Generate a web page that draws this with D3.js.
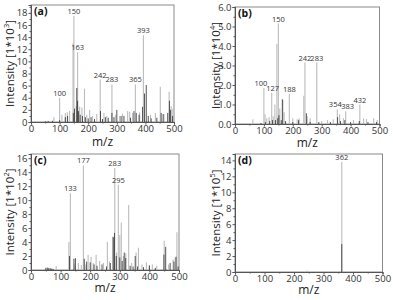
<!DOCTYPE html>
<html>
<head>
<meta charset="utf-8">
<script src="https://cdn.jsdelivr.net/npm/d3@7"></script>
<style>
  body { margin: 0; background: #fff; }
  svg { display: block; font-family: 'Open Sans', sans-serif; }
</style>
</head>
<body>
<script>
// peaks: [m/z, intensity] — gray = light spectrum, black = dark spectrum
const grayA = [[80,0.8],[100,4.0],[108,1.2],[120,1.5],[127,1.6],[135,1.8],[147,13.0],[150,17.5],[158,2.6],[163,11.5],[170,2.5],[178,2.4],[187,5.5],[195,1.2],[205,2.0],[215,1.0],[230,1.3],[242,7.0],[255,1.5],[265,1.0],[283,6.2],[295,1.2],[310,1.0],[320,1.4],[338,1.8],[345,1.7],[355,1.5],[365,6.2],[380,1.6],[393,14.3],[418,1.2],[435,1.5],[452,5.8],[465,1.3],[483,5.0],[490,2.6],[496,2.2]]
const blackA = [[50,0.1],[60,0.15],[75,0.2],[100,0.3],[120,0.8],[128,1.0],[148,1.5],[152,2.2],[160,5.6],[163,3.5],[166,1.8],[172,1.2],[180,1.0],[190,0.8],[200,0.6],[210,0.8],[222,0.5],[243,1.8],[250,0.5],[260,0.8],[270,0.7],[283,1.5],[290,0.8],[300,2.0],[315,1.0],[325,1.0],[348,0.7],[360,1.8],[368,1.5],[378,1.2],[390,2.5],[397,4.7],[403,6.1],[410,1.0],[420,0.6],[440,0.7],[455,1.5],[462,1.3],[478,1.5],[484,3.5],[488,2.0],[495,1.0]]
const labelsA = [100,150,163,242,283,365,393]

const grayB = [[62,0.25],[100,1.85],[104,0.5],[110,0.3],[118,0.35],[127,1.6],[132,0.4],[138,1.0],[145,4.1],[150,5.15],[155,0.8],[163,1.3],[170,0.6],[188,1.55],[200,0.3],[215,0.25],[222,0.3],[238,1.45],[242,3.15],[250,0.4],[260,0.3],[283,3.15],[300,0.15],[320,0.2],[340,0.25],[354,0.75],[362,0.5],[375,0.3],[383,0.65],[410,0.2],[432,1.0],[445,0.3],[455,0.25],[480,0.3],[492,0.2]]
const blackB = [[90,0.05],[105,0.1],[120,0.15],[130,0.2],[140,0.2],[148,0.3],[152,0.45],[160,0.2],[165,1.25],[175,0.15],[200,0.1],[220,0.2],[247,0.55],[260,0.1],[290,0.1],[330,0.1],[355,0.35],[365,0.15],[380,0.2],[400,0.1],[430,0.15],[460,0.1],[490,0.1]]
const labelsB = [100,127,150,188,242,283,354,383,432]

const grayC = [[85,0.6],[128,4.0],[133,11.0],[148,0.8],[160,1.0],[170,0.7],[177,15.0],[185,0.8],[193,2.2],[203,1.9],[210,1.0],[220,2.2],[232,1.3],[245,1.0],[258,4.0],[265,1.2],[276,4.8],[283,14.6],[289,2.5],[295,12.2],[300,5.0],[305,6.8],[312,2.0],[320,2.4],[330,9.3],[340,1.0],[355,2.5],[363,3.2],[375,0.8],[390,1.1],[400,0.7],[410,0.8],[425,0.6],[450,4.2],[465,0.8],[480,1.5],[487,1.8],[493,5.4]]
const blackC = [[50,0.3],[55,0.35],[60,0.3],[65,0.25],[70,0.2],[75,0.15],[130,2.0],[145,1.6],[150,1.7],[180,1.6],[188,1.2],[200,1.1],[213,0.8],[223,0.6],[240,0.8],[255,0.5],[268,1.0],[278,4.7],[282,5.3],[288,2.0],[300,1.8],[308,1.3],[315,2.5],[320,1.7],[335,0.6],[345,0.5],[352,2.0],[360,0.5],[380,0.4],[400,0.6],[420,0.3],[449,2.2],[455,3.3],[470,1.0],[483,1.2],[490,1.9],[497,0.5]]
const labelsC = [133,177,283,295]

const grayD = [[245,0.2],[362,13.8]]
const blackD = [[362,3.5]]
const labelsD = [362]

const xTicks = [0, 100, 200, 300, 400, 500]

const panels = [
  { tag: '(a)', exp: '3', gray: grayA, black: blackA, labels: labelsA, ymax: 19.3, yTicks: d3.range(0, 19, 2),
    left: 31, right: 174, top: 5, bottom: 122, titleX: 14, xTitleY: 146, nudge: {} },
  { tag: '(b)', exp: '4', gray: grayB, black: blackB, labels: labelsB, ymax: 6, yTicks: d3.range(0, 7, 1),
    left: 235, right: 379.5, top: 7, bottom: 124, titleX: 220, xTitleY: 147, nudge: { 100: -3, 127: 1, 354: -2, 383: 2 } },
  { tag: '(c)', exp: '2', gray: grayC, black: blackC, labels: labelsC, ymax: 16.6, yTicks: d3.range(0, 17, 2),
    left: 31, right: 179, top: 154, bottom: 270, titleX: 14, xTitleY: 292, nudge: {} },
  { tag: '(d)', exp: '5', gray: grayD, black: blackD, labels: labelsD, ymax: 14.8, yTicks: d3.range(0, 15, 2),
    left: 235, right: 382.5, top: 154, bottom: 272, titleX: 220, xTitleY: 294, nudge: {} },
]

const svg = d3.select('body').append('svg')
  .attr('width', 393)
  .attr('height', 300)

panels.forEach(p => {
  const x = d3.scaleLinear().domain([0, 500]).range([p.left, p.right])
  const y = d3.scaleLinear().domain([0, p.ymax]).range([p.bottom, p.top])
  const g = svg.append('g')

  // frame
  g.append('rect')
    .attr('x', p.left).attr('y', p.top)
    .attr('width', p.right - p.left).attr('height', p.bottom - p.top)
    .attr('fill', 'none').attr('stroke', '#8a8a8a').attr('stroke-width', 1)

  // peaks
  const drawPeaks = (data, color, w) => {
    g.append('g').selectAll('line')
      .data(data)
      .enter()
      .append('line')
      .attr('x1', d => x(d[0])).attr('x2', d => x(d[0]))
      .attr('y1', y(0)).attr('y2', d => y(d[1]))
      .attr('stroke', color).attr('stroke-width', w)
  }
  drawPeaks(p.gray, '#bcbcbc', 1.1)
  drawPeaks(p.black, '#2a2a2a', 0.8)

  // peak labels
  const peakMax = m => d3.max(p.gray.concat(p.black).filter(d => d[0] === m), d => d[1])
  g.append('g').selectAll('text')
    .data(p.labels)
    .enter()
    .append('text')
    .attr('x', d => x(d) + (p.nudge[d] || 0))
    .attr('y', d => y(peakMax(d)) - 2)
    .attr('text-anchor', 'middle')
    .attr('font-size', 7.5)
    .attr('fill', '#333')
    .text(d => d)

  // axes
  const xAxis = d3.axisBottom(x).tickValues(xTicks).tickSize(2.5).tickPadding(0.5)
  const xMinor = d3.axisBottom(x).tickValues(d3.range(50, 500, 100)).tickSize(1.5).tickFormat('')
  const yAxis = d3.axisLeft(y).tickValues(p.yTicks).tickSize(2.5).tickPadding(1)
  const yMinor = d3.axisLeft(y).tickValues(p.yTicks.map(v => v + (p.yTicks[1] - p.yTicks[0]) / 2).filter(v => v < p.ymax)).tickSize(1.5).tickFormat('')

  const ax = [
    g.append('g').attr('transform', `translate(0,${p.bottom})`).call(xAxis),
    g.append('g').attr('transform', `translate(0,${p.bottom})`).call(xMinor),
    g.append('g').attr('transform', `translate(${p.left},0)`).call(yAxis),
    g.append('g').attr('transform', `translate(${p.left},0)`).call(yMinor),
  ]
  ax.forEach(a => {
    a.select('.domain').attr('stroke', '#555')
    a.selectAll('.tick line').attr('stroke', '#555')
    a.selectAll('.tick text').attr('font-size', 9.5).attr('fill', '#333').attr('font-family', "'Open Sans', sans-serif")
  })

  // panel tag
  g.append('text')
    .attr('x', p.left + 3).attr('y', p.top + 10)
    .attr('font-size', 10.5).attr('font-weight', 'bold').attr('fill', '#111')
    .text(p.tag)

  // axis titles
  g.append('text')
    .attr('x', (p.left + p.right) / 2).attr('y', p.xTitleY)
    .attr('text-anchor', 'middle').attr('font-size', 12).attr('fill', '#222')
    .text('m/z')

  const yt = g.append('text')
    .attr('transform', `translate(${p.titleX},${(p.top + p.bottom) / 2}) rotate(-90)`)
    .attr('text-anchor', 'middle').attr('font-size', 11.5).attr('fill', '#222')
  yt.append('tspan').text('Intensity [1*10')
  yt.append('tspan').attr('baseline-shift', 'super').attr('font-size', 7.5).text(p.exp)
  yt.append('tspan').text(']')
})
</script>
</body>
</html>
